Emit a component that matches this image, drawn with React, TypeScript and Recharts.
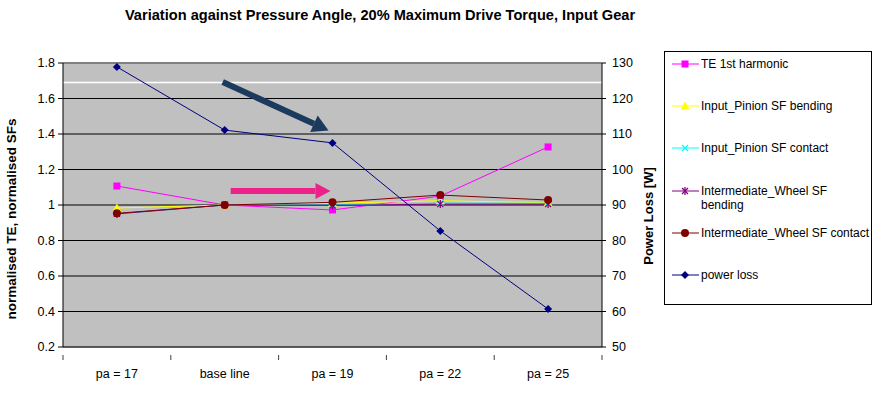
import React from 'react'
import { ComposedChart, Line, XAxis, YAxis, CartesianGrid, ReferenceLine } from 'recharts'

const categories = ['pa = 17', 'base line', 'pa = 19', 'pa = 22', 'pa = 25']
const teHarmonic = [1.107, 1.0, 0.972, 1.05, 1.327]
const pinionBending = [0.983, 1.0, 1.01, 1.024, 1.013]
const pinionContact = [0.95, 1.0, 1.0, 1.01, 1.01]
const wheelBending = [0.95, 1.0, 0.998, 1.005, 1.005]
const wheelContact = [0.953, 1.0, 1.015, 1.056, 1.028]
const powerLoss = [128.9, 111.1, 107.5, 82.7, 60.7]
const leftTicks = [0.2, 0.4, 0.6, 0.8, 1, 1.2, 1.4, 1.6, 1.8]
const rightTicks = [50, 60, 70, 80, 90, 100, 110, 120, 130]

const data = categories.map((name, i) => ({
  name,
  te: teHarmonic[i],
  pb: pinionBending[i],
  pc: pinionContact[i],
  wb: wheelBending[i],
  wc: wheelContact[i],
  pl: powerLoss[i],
}))

const series = [
  { key: 'te', name: 'TE 1st harmonic', color: '#ff00ff', marker: 'square', axis: 'left' },
  { key: 'pb', name: 'Input_Pinion SF bending', color: '#ffff00', marker: 'triangle', axis: 'left' },
  { key: 'pc', name: 'Input_Pinion SF contact', color: '#00ffff', marker: 'x', axis: 'left' },
  { key: 'wb', name: 'Intermediate_Wheel SF bending', color: '#800080', marker: 'star', axis: 'left' },
  { key: 'wc', name: 'Intermediate_Wheel SF contact', color: '#800000', marker: 'circle', axis: 'left' },
  { key: 'pl', name: 'power loss', color: '#000080', marker: 'diamond', axis: 'right' },
]

const FONT = '"Liberation Sans", Arial, sans-serif'

function Marker({ kind, color, cx, cy }: any) {
  switch (kind) {
    case 'square':
      return <rect x={cx - 3.5} y={cy - 3.5} width={7} height={7} fill={color} />
    case 'triangle':
      return <polygon points={`${cx},${cy - 4.5} ${cx + 4.5},${cy + 3.5} ${cx - 4.5},${cy + 3.5}`} fill={color} />
    case 'x':
      return (
        <g stroke={color} strokeWidth={1.3}>
          <line x1={cx - 3} y1={cy - 3} x2={cx + 3} y2={cy + 3} />
          <line x1={cx - 3} y1={cy + 3} x2={cx + 3} y2={cy - 3} />
        </g>
      )
    case 'star':
      return (
        <g stroke={color} strokeWidth={1.3}>
          <line x1={cx - 3} y1={cy - 3} x2={cx + 3} y2={cy + 3} />
          <line x1={cx - 3} y1={cy + 3} x2={cx + 3} y2={cy - 3} />
          <line x1={cx} y1={cy - 4} x2={cx} y2={cy + 4} />
        </g>
      )
    case 'circle':
      return <circle cx={cx} cy={cy} r={4} fill={color} />
    case 'diamond':
      return <polygon points={`${cx},${cy - 4} ${cx + 4},${cy} ${cx},${cy + 4} ${cx - 4},${cy}`} fill={color} />
    default:
      return null
  }
}

const makeDot = (kind: string, color: string) => (p: any) =>
  p.cx == null ? <g key={p.index} /> : (
    <g key={p.index}>
      <Marker kind={kind} color={color} cx={p.cx} cy={p.cy} />
    </g>
  )

const CatTick = (props: any) => {
  const { x, y, payload } = props
  const off = payload.offset || 0
  return (
    <g>
      <line x1={x - off} y1={y} x2={x - off} y2={y + 5} stroke="#404040" />
      {payload.index === categories.length - 1 && (
        <line x1={x + off} y1={y} x2={x + off} y2={y + 5} stroke="#404040" />
      )}
      <text x={x} y={y + 23} textAnchor="middle" fontSize={12.5} fontFamily={FONT} fill="#000">
        {payload.value}
      </text>
    </g>
  )
}

const arrowShape = (color: string, w: number, head: number, hw: number, dxStart = 0, dxEnd = 0) => (props: any) => {
  const x1 = props.x1 + dxStart
  const y1 = props.y1
  const x2 = props.x2 + dxEnd
  const y2 = props.y2
  const len = Math.hypot(x2 - x1, y2 - y1)
  const ux = (x2 - x1) / len
  const uy = (y2 - y1) / len
  const bx = x2 - ux * head
  const by = y2 - uy * head
  const nx = -uy
  const ny = ux
  return (
    <g>
      <line x1={x1} y1={y1} x2={bx} y2={by} stroke={color} strokeWidth={w} />
      <polygon
        points={`${x2},${y2} ${bx + nx * hw},${by + ny * hw} ${bx - nx * hw},${by - ny * hw}`}
        fill={color}
      />
    </g>
  )
}

const LeftLabel = (props: any) => {
  const vb = props.viewBox
  const x = vb.x + 16
  const y = vb.y + vb.height / 2 + 14
  return (
    <text x={x} y={y} transform={`rotate(-90 ${x} ${y})`} textAnchor="middle" fontSize={13.5} fontWeight="bold" fontFamily={FONT} fill="#000">
      normalised TE, normalised SFs
    </text>
  )
}

const RightLabel = (props: any) => {
  const vb = props.viewBox
  const x = vb.x + 51
  const y = vb.y + vb.height / 2 + 11
  return (
    <text x={x} y={y} transform={`rotate(-90 ${x} ${y})`} textAnchor="middle" fontSize={13} fontWeight="bold" fontFamily={FONT} fill="#000">
      Power Loss [W]
    </text>
  )
}

const LegendBox = () => (
  <div
    style={{
      position: 'absolute',
      left: 664,
      top: 51,
      width: 206,
      height: 252,
      border: '1px solid #000',
      background: '#fff',
      fontFamily: FONT,
      fontSize: 12,
    }}
  >
    {series.map((s, i) => {
      const lines = s.key === 'wb' ? ['Intermediate_Wheel SF', 'bending'] : [s.name]
      return (
        <div key={s.key} style={{ position: 'absolute', top: 5 + i * 42.2, left: 6, display: 'flex', alignItems: 'flex-start' }}>
          <svg width={30} height={14} style={{ flex: 'none' }}>
            <line x1={1} y1={7} x2={28} y2={7} stroke={s.color} strokeWidth={1} />
            <Marker kind={s.marker} color={s.color} cx={14} cy={7} />
          </svg>
          <div style={{ lineHeight: '14px', whiteSpace: 'nowrap' }}>
            {lines.map((l) => (
              <div key={l}>{l}</div>
            ))}
          </div>
        </div>
      )
    })}
  </div>
)

export default function App() {
  return (
    <div style={{ position: 'absolute', left: 0, top: 0, width: 874, height: 393, background: '#fff', fontFamily: FONT }}>
      <div
        style={{
          position: 'absolute',
          left: 0,
          width: 760,
          top: 7,
          textAlign: 'center',
          fontSize: 14.6,
          fontWeight: 'bold',
        }}
      >
        Variation against Pressure Angle, 20% Maximum Drive Torque, Input Gear
      </div>
      <ComposedChart
        width={874}
        height={393}
        data={data}
        margin={{ top: 63, right: 214, left: 0, bottom: 16 }}
        style={{ position: 'absolute', left: 0, top: 0 }}
      >
        <CartesianGrid vertical={false} stroke="#000" fill="#c0c0c0" fillOpacity={1} yAxisId="left" />
        <XAxis
          dataKey="name"
          scale="band"
          height={30}
          tickLine={false}
          axisLine={{ stroke: '#404040' }}
          tick={<CatTick />}
          interval={0}
        />
        <YAxis
          yAxisId="left"
          orientation="left"
          width={63}
          domain={[0.2, 1.8]}
          ticks={leftTicks}
          interval={0}
          tickSize={5}
          tickMargin={3}
          axisLine={{ stroke: '#000' }}
          tickLine={{ stroke: '#000' }}
          tick={{ fontSize: 12.5, fill: '#000', fontFamily: FONT }}
          label={<LeftLabel />}
        />
        <YAxis
          yAxisId="right"
          orientation="right"
          width={58}
          domain={[50, 130]}
          ticks={rightTicks}
          interval={0}
          tickSize={4}
          tickMargin={6}
          axisLine={{ stroke: '#000' }}
          tickLine={{ stroke: '#000' }}
          tick={{ fontSize: 12.5, fill: '#000', fontFamily: FONT }}
          label={<RightLabel />}
        />
        <ReferenceLine yAxisId="left" y={1.69} stroke="#fff" strokeWidth={1.5} />
        <ReferenceLine yAxisId="left" y={1.8} stroke="#808080" strokeWidth={2} />
        {series.map((s) => (
          <Line
            key={s.key}
            yAxisId={s.axis}
            type="linear"
            dataKey={s.key}
            name={s.name}
            stroke={s.color}
            strokeWidth={1}
            dot={makeDot(s.marker, s.color)}
            activeDot={false}
            isAnimationActive={false}
          />
        ))}
        <ReferenceLine
          yAxisId="left"
          segment={[{ x: 'base line', y: 1.693 }, { x: 'pa = 19', y: 1.42 }]}
          shape={arrowShape('#1c3a5e', 6, 16, 9, -2, -4)}
        />
        <ReferenceLine
          yAxisId="left"
          segment={[{ x: 'base line', y: 1.079 }, { x: 'pa = 19', y: 1.079 }]}
          shape={arrowShape('#ec2189', 6, 15, 8, 6, -2)}
        />
      </ComposedChart>
      <LegendBox />
    </div>
  )
}
